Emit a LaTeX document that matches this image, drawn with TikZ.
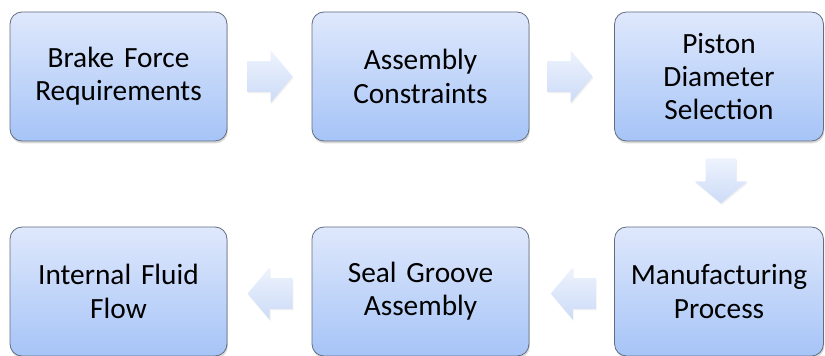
\documentclass[tikz,border=0pt]{standalone}
\usepackage{fontspec}
\setmainfont{Carlito}
\usetikzlibrary{shapes.arrows, shadows}
\definecolor{boxtop}{RGB}{223,232,252}
\definecolor{boxbottom}{RGB}{166,196,247}
\definecolor{boxline}{RGB}{98,110,128}
\definecolor{arrowtop}{RGB}{238,243,253}
\definecolor{arrowbottom}{RGB}{204,219,247}
\tikzstyle{block} = [rectangle, rounded corners=9pt, minimum width=162.75pt, minimum height=96.75pt, text width=150pt, text centered, draw=boxline, line width=0.6pt, top color=boxtop, bottom color=boxbottom, font=\fontsize{22}{25}\selectfont, drop shadow={shadow xshift=0.6pt, shadow yshift=-1.8pt, opacity=0.3}]
\tikzstyle{flow} = [single arrow, anchor=tail, minimum height=33.75pt, inner xsep=0pt, inner ysep=11.25pt, single arrow head extend=8.25pt, single arrow tip angle=100, top color=arrowtop, bottom color=arrowbottom, drop shadow={shadow xshift=0.6pt, shadow yshift=-1.2pt, opacity=0.12}]
\tikzstyle{flowdown} = [flow, shape border rotate=270, inner xsep=11.25pt, inner ysep=0pt]

\begin{document}
\begin{tikzpicture}[x=0.75pt, y=-0.75pt]
            \useasboundingbox (0,0) rectangle (825,356);

            \node [block] at (118.5,76.5) (brake) {Brake Force\\Requirements};
            \node [block] at (420.5,76.5) (assembly) {Assembly\\Constraints};
            \node [block, minimum width=156pt] at (719,76.5) (piston) {Piston\\Diameter\\Selection};
            \node [block, minimum width=156pt] at (719,291.5) (manufacturing) {Manufacturing\\Process};
            \node [block] at (420.5,291.5) (seal) {Seal Groove\\Assembly};
            \node [block] at (118.5,291.5) (fluid) {Internal Fluid\\Flow};

            \node [flow, xshift=15pt] at (brake.east) (flow1) {};
            \node [flow, xshift=13.5pt] at (assembly.east) (flow2) {};
            \node [flowdown, xshift=1.5pt, yshift=-12.5pt] at (piston.south) (flow3) {};
            \node [flow, shape border rotate=180, xshift=-13.5pt, yshift=-1.5pt] at (manufacturing.west) (flow4) {};
            \node [flow, shape border rotate=180, xshift=-14pt, yshift=-1.5pt] at (seal.west) (flow5) {};
            \end{tikzpicture}
\end{document}
